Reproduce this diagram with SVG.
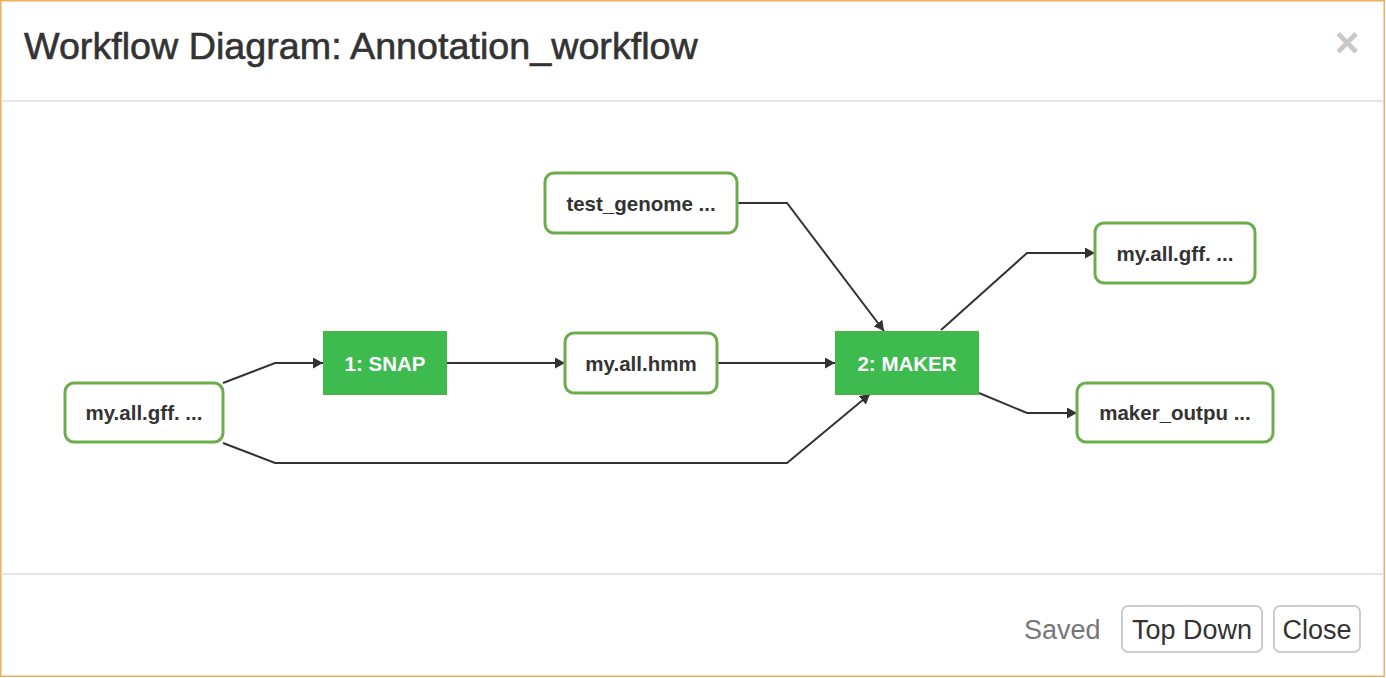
<svg xmlns="http://www.w3.org/2000/svg" width="1386" height="678" viewBox="0 0 1386 678">
<defs>
<style>
.frame{fill:#fff;stroke:#eeb05a;stroke-width:1.5}
.sep{stroke:#e5e5e5;stroke-width:2}
.title{font-family:"Liberation Sans",Arial,sans-serif;font-size:37.7px;fill:#333;stroke:#333;stroke-width:0.6}
.closex{font-family:"Liberation Sans",Arial,sans-serif;font-size:42px;font-weight:bold;fill:#c8c8c8}
.data rect{fill:#fff;stroke:#6cad4b;stroke-width:3}
.data text{font-family:"Liberation Sans",Arial,sans-serif;font-size:20.5px;font-weight:bold;fill:#333;text-anchor:middle}
.proc rect{fill:#3dbb4f;stroke:#47b64a;stroke-width:2}
.proc text{font-family:"Liberation Sans",Arial,sans-serif;font-size:20.5px;font-weight:bold;fill:#fff;text-anchor:middle}
.edge{fill:none;stroke:#333;stroke-width:2}
.btn rect{fill:#fff;stroke:#ccc;stroke-width:2}
.btn text{font-family:"Liberation Sans",Arial,sans-serif;font-size:27px;fill:#333;text-anchor:middle}
.saved{font-family:"Liberation Sans",Arial,sans-serif;font-size:27px;fill:#777}
</style>
<marker id="arr" viewBox="0 0 10 11" refX="10" refY="5.5" markerWidth="10" markerHeight="11" markerUnits="userSpaceOnUse" orient="auto">
<path d="M0,0 L10,5.5 L0,11 z" fill="#333"/>
</marker>
</defs>
<rect class="frame" x="0.75" y="0.75" width="1383.5" height="675.5"/>
<g id="header">
<text class="title" x="24" y="59">Workflow Diagram: Annotation_workflow</text>
<text class="closex" x="1347" y="57" text-anchor="middle">×</text>
<line class="sep" x1="1.5" y1="101" x2="1383.5" y2="101"/>
</g>
<g id="connectors">
<polyline class="edge" points="223,383 275,363 323,363" marker-end="url(#arr)"/>
<polyline class="edge" points="223,443 275,463 787,463 870,394" marker-end="url(#arr)"/>
<polyline class="edge" points="447,363 565,363" marker-end="url(#arr)"/>
<polyline class="edge" points="717,363 835,363" marker-end="url(#arr)"/>
<polyline class="edge" points="737,203 787,203 884,331" marker-end="url(#arr)"/>
<polyline class="edge" points="941,330 1027,253 1095,253" marker-end="url(#arr)"/>
<polyline class="edge" points="979,393 1027,413 1077,413" marker-end="url(#arr)"/>
</g>
<g id="node-gff-in" class="data">
<rect x="65" y="383" width="158" height="59" rx="9"/>
<text x="144" y="420">my.all.gff. ...</text>
</g>
<g id="node-snap" class="proc">
<rect x="324" y="332" width="122" height="62"/>
<text x="385" y="370.5">1: SNAP</text>
</g>
<g id="node-genome" class="data">
<rect x="545" y="173" width="192" height="60" rx="9"/>
<text x="641" y="210.5">test_genome ...</text>
</g>
<g id="node-hmm" class="data">
<rect x="565" y="333" width="152" height="60" rx="9"/>
<text x="641" y="370.5">my.all.hmm</text>
</g>
<g id="node-maker" class="proc">
<rect x="836" y="332" width="142" height="62"/>
<text x="907" y="370.5">2: MAKER</text>
</g>
<g id="node-gff-out" class="data">
<rect x="1095" y="223" width="160" height="60" rx="9"/>
<text x="1175" y="260.5">my.all.gff. ...</text>
</g>
<g id="node-maker-out" class="data">
<rect x="1077" y="383" width="196" height="59" rx="9"/>
<text x="1175" y="420">maker_outpu ...</text>
</g>
<g id="footer">
<line class="sep" x1="1.5" y1="574" x2="1383.5" y2="574"/>
<text class="saved" x="1024" y="639">Saved</text>
<g id="btn-topdown" class="btn">
<rect x="1122" y="606" width="140" height="46" rx="6"/>
<text x="1192" y="639">Top Down</text>
</g>
<g id="btn-close" class="btn">
<rect x="1274" y="606" width="86" height="46" rx="6"/>
<text x="1317" y="639">Close</text>
</g>
</g>
</svg>
